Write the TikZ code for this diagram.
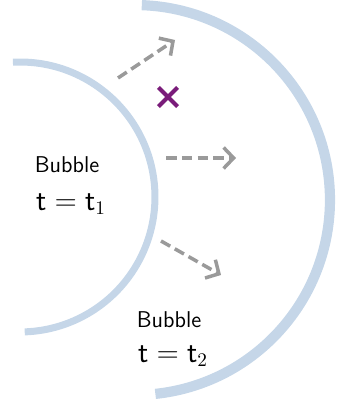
\documentclass[tikz,border=0pt]{standalone}
\usetikzlibrary{arrows.meta,shapes.misc}
\definecolor{shell}{HTML}{C5D6E8}
\definecolor{flow}{HTML}{9A9A9A}
\definecolor{mark}{HTML}{7A1C7A}
\newcommand{\InnerR}{2.7cm}
\newcommand{\OuterR}{3.9cm}

\begin{document}
\begin{tikzpicture}[
    x=0.02cm, y=0.02cm,
    font=\sffamily,
    wall/.style={draw=shell, line width=4pt},
    outerwall/.style={draw=shell, line width=5.8pt},
    push/.style={-{Straight Barb[length=2mm, width=4.2mm]}, draw=flow, line width=2pt, dash pattern=on 6pt off 3pt},
    label/.style={inner sep=0pt, font=\sffamily\fontsize{13}{15}\selectfont},
    stamp/.style={inner sep=0pt, font=\fontsize{16}{19}\selectfont},
    hit/.style={cross out, draw=mark, line width=2.4pt, minimum size=0.3cm, inner sep=0pt},
  ]
\useasboundingbox (0,0) rectangle (339,408);

% --- The two shells: the bubble at t1, and grown by t2 -----------------------
\coordinate (c1) at (20,211);
\coordinate (c2) at (135,208);
\draw[wall] ([shift={(93:\InnerR)}] c1) arc[start angle=93, end angle=-88, radius=\InnerR];
\draw[outerwall] ([shift={(88:\OuterR)}] c2) arc[start angle=88, end angle=-84, radius=\OuterR];

% --- The push outwards ---------------------------------------------------------
\coordinate (p1) at (118,330); \coordinate (q1) at (175,368);
\coordinate (p2) at (166,250); \coordinate (q2) at (236,250);
\coordinate (p3) at (161,167); \coordinate (q3) at (221,133);
\foreach \i in {1,2,3} {
  \draw[push] (p\i) -- (q\i);
}

% --- The point that the shell sweeps over --------------------------------------
\node[hit] (pt) at (168,311) {};

% --- Labels ---------------------------------------------------------------------
\node[label] (b1) at (67,243) {Bubble};
\node[stamp] (t1) at (71,204) {$\mathsf{t}=\mathsf{t}_1$};
\node[label] (b2) at (169,88) {Bubble};
\node[stamp] (t2) at (173,52) {$\mathsf{t}=\mathsf{t}_2$};

\end{tikzpicture}
\end{document}
